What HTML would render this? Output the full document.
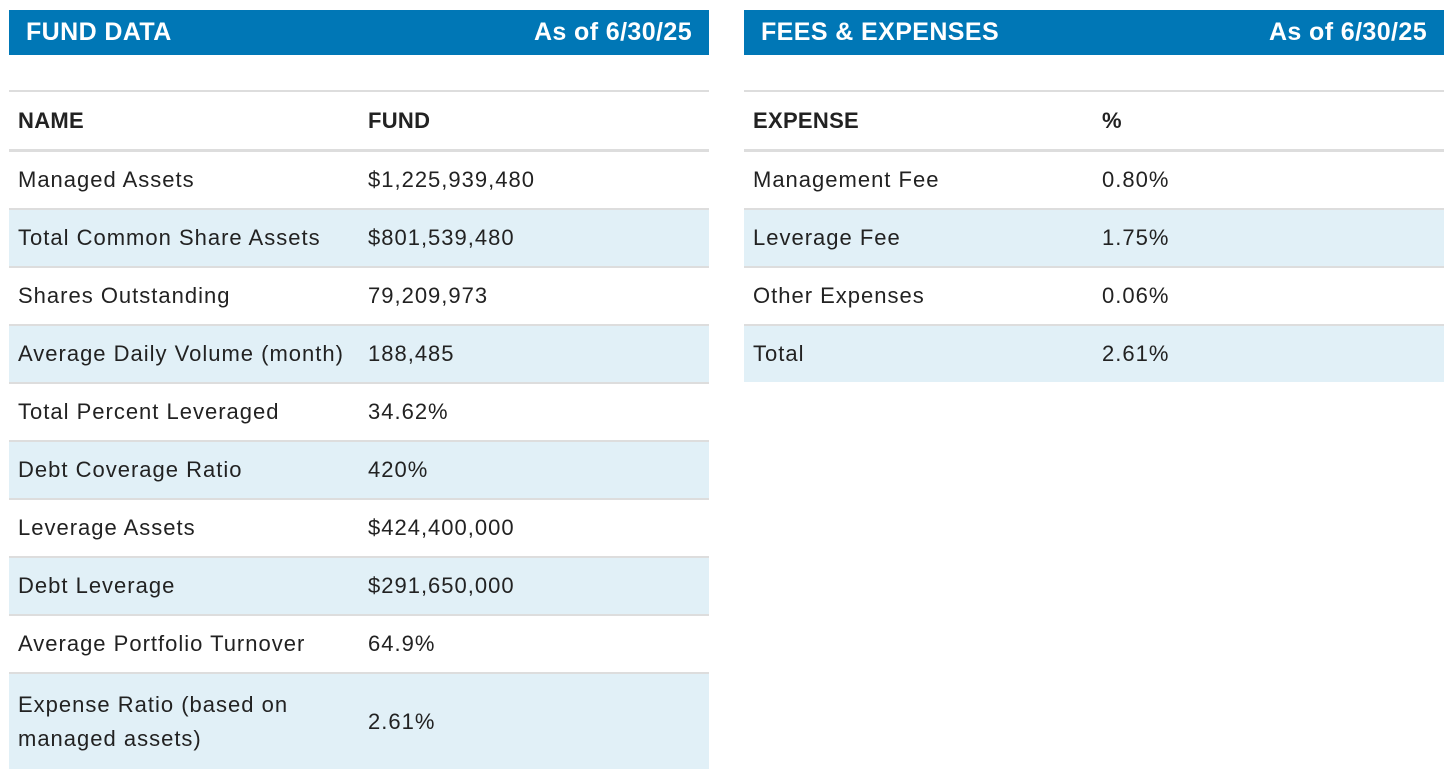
<!DOCTYPE html>
<html><head><meta charset="utf-8"><style>
body{margin:0;width:1456px;height:784px;background:#fff;font-family:"Liberation Sans",sans-serif;color:#222;position:relative;overflow:hidden}
.panel{position:absolute;top:10px;width:700px}
.hdr{height:45px;background:#0077b6;color:#fff;font-weight:bold;font-size:25px;display:flex;justify-content:space-between;align-items:center;padding:0 17px;box-sizing:border-box;letter-spacing:0.4px}
.tbl{position:absolute;top:80px;left:0;width:700px;border-top:2px solid #ddd}
.row{position:relative;height:56px;border-bottom:2px solid #ddd;font-size:22px;letter-spacing:1px}
.row.alt{background:#e1f0f7}
.row.head{height:57px;border-bottom:3px solid #ddd;font-weight:bold;letter-spacing:0.3px}
.c1,.c2{position:absolute;top:0;height:100%;display:flex;align-items:center;line-height:34px}
.c1{left:9px}
.tall{height:95px;border-bottom:none}
</style></head><body>
<div class="panel" style="left:9px">
 <div class="hdr"><span>FUND DATA</span><span>As of 6/30/25</span></div>
 <div class="tbl">
  <div class="row head"><span class="c1">NAME</span><span class="c2" style="left:359px">FUND</span></div>
  <div class="row"><span class="c1">Managed Assets</span><span class="c2" style="left:359px">$1,225,939,480</span></div>
  <div class="row alt"><span class="c1">Total Common Share Assets</span><span class="c2" style="left:359px">$801,539,480</span></div>
  <div class="row"><span class="c1">Shares Outstanding</span><span class="c2" style="left:359px">79,209,973</span></div>
  <div class="row alt"><span class="c1">Average Daily Volume (month)</span><span class="c2" style="left:359px">188,485</span></div>
  <div class="row"><span class="c1">Total Percent Leveraged</span><span class="c2" style="left:359px">34.62%</span></div>
  <div class="row alt"><span class="c1">Debt Coverage Ratio</span><span class="c2" style="left:359px">420%</span></div>
  <div class="row"><span class="c1">Leverage Assets</span><span class="c2" style="left:359px">$424,400,000</span></div>
  <div class="row alt"><span class="c1">Debt Leverage</span><span class="c2" style="left:359px">$291,650,000</span></div>
  <div class="row"><span class="c1">Average Portfolio Turnover</span><span class="c2" style="left:359px">64.9%</span></div>
  <div class="row alt tall"><span class="c1">Expense Ratio (based on<br>managed assets)</span><span class="c2" style="left:359px">2.61%</span></div>
 </div>
</div>
<div class="panel" style="left:744px">
 <div class="hdr"><span>FEES &amp; EXPENSES</span><span>As of 6/30/25</span></div>
 <div class="tbl">
  <div class="row head"><span class="c1">EXPENSE</span><span class="c2" style="left:358px">%</span></div>
  <div class="row"><span class="c1">Management Fee</span><span class="c2" style="left:358px">0.80%</span></div>
  <div class="row alt"><span class="c1">Leverage Fee</span><span class="c2" style="left:358px">1.75%</span></div>
  <div class="row"><span class="c1">Other Expenses</span><span class="c2" style="left:358px">0.06%</span></div>
  <div class="row alt" style="border-bottom:none"><span class="c1">Total</span><span class="c2" style="left:358px">2.61%</span></div>
 </div>
</div>
</body></html>
